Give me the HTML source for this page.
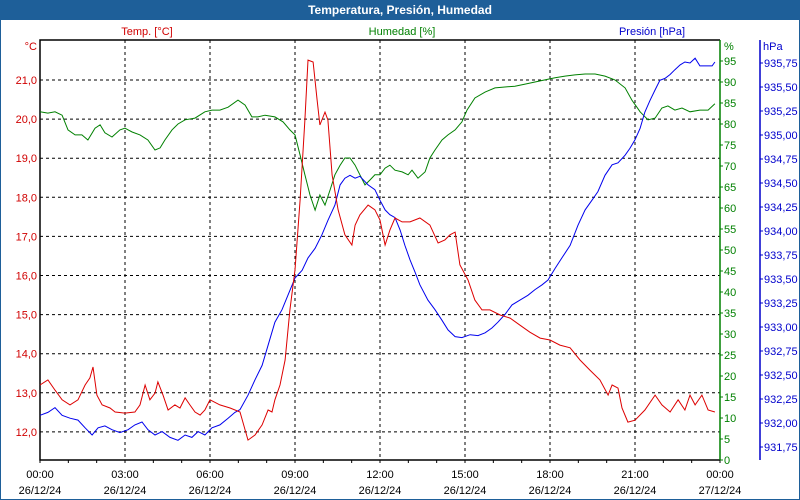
<!DOCTYPE html>
<html><head><meta charset="utf-8"><style>
html,body{margin:0;padding:0;background:#fff}
svg{display:block;font-family:"Liberation Sans",sans-serif}
</style></head><body>
<svg id="c" width="800" height="500" viewBox="0 0 800 500">
<rect x="0" y="0" width="800" height="500" fill="#fff" stroke="#1e5f99" stroke-width="2"/>
<rect x="0" y="0" width="800" height="20" fill="#1e5f99"/>
<text x="400" y="14" text-anchor="middle" font-size="12" font-weight="bold" fill="#fff">Temperatura, Presión, Humedad</text>
<text x="147" y="35" text-anchor="middle" font-size="11" fill="#d00000">Temp. [°C]</text>
<text x="402" y="35" text-anchor="middle" font-size="11" fill="#008000">Humedad [%]</text>
<text x="652" y="35" text-anchor="middle" font-size="11" fill="#0000cc">Presión [hPa]</text>
<text x="37" y="50" text-anchor="end" font-size="11" fill="#d00000">°C</text>
<text x="724" y="50" font-size="11" fill="#008000">%</text>
<text x="763" y="50" font-size="11" fill="#0000cc">hPa</text>
<g id="grid"></g><g id="axes"></g><g id="series"></g>
</svg>
<script>
const tempHours=[0,.28,.53,.78,1.06,1.34,1.59,1.76,1.87,2.01,2.19,2.47,2.65,3,3.35,3.53,3.71,3.88,4.06,4.16,4.34,4.52,4.76,4.94,5.12,5.29,5.47,5.65,5.82,6,6.35,6.71,7.06,7.34,7.59,7.84,8.05,8.19,8.29,8.47,8.65,8.82,9,9.18,9.35,9.46,9.64,9.78,9.88,10.06,10.16,10.31,10.52,10.76,11.01,11.12,11.29,11.58,11.82,12,12.18,12.35,12.53,12.78,13.06,13.41,13.76,14.05,14.29,14.47,14.65,14.82,15.11,15.35,15.6,15.88,16.24,16.59,16.94,17.29,17.65,18,18.35,18.71,19.06,19.41,19.76,20.05,20.19,20.4,20.54,20.75,21,21.35,21.71,21.95,22.24,22.52,22.76,22.94,23.12,23.36,23.58,23.82];
const tempValues=[13.2,13.33,13.07,12.82,12.69,12.82,13.2,13.38,13.66,12.94,12.69,12.61,12.51,12.48,12.51,12.69,13.2,12.82,12.99,13.28,12.94,12.56,12.69,12.61,12.87,12.69,12.51,12.43,12.56,12.82,12.69,12.61,12.51,11.79,11.92,12.18,12.56,12.51,12.82,13.2,13.84,15.12,16.14,17.93,19.98,21.51,21.46,20.49,19.85,20.18,19.98,18.57,17.68,17.04,16.78,17.29,17.55,17.8,17.68,17.42,16.78,17.16,17.47,17.37,17.37,17.47,17.29,16.83,16.91,17.04,17.11,16.27,15.88,15.37,15.12,15.12,14.99,14.91,14.73,14.55,14.4,14.35,14.22,14.15,13.84,13.58,13.33,12.94,13.2,13.12,12.61,12.25,12.3,12.56,12.94,12.69,12.51,12.82,12.56,12.94,12.69,12.94,12.56,12.51];
const humHours=[0,.28,.53,.78,.99,1.24,1.48,1.69,1.94,2.12,2.29,2.54,2.82,3,3.25,3.53,3.81,4.06,4.24,4.41,4.66,4.87,5.12,5.47,5.82,6.07,6.35,6.64,6.99,7.24,7.48,7.69,7.94,8.29,8.58,8.82,9,9.18,9.35,9.53,9.71,9.88,10.06,10.24,10.41,10.59,10.76,10.94,11.12,11.29,11.47,11.65,11.82,12,12.18,12.35,12.53,12.78,12.99,13.13,13.34,13.59,13.76,13.94,14.19,14.4,14.65,14.89,15.07,15.35,15.71,16.06,16.41,16.76,17.12,17.47,17.82,18.18,18.53,18.88,19.24,19.59,19.94,20.29,20.65,20.89,21.18,21.46,21.71,21.95,22.16,22.41,22.66,22.94,23.29,23.58,23.82];
const humValues=[82.9,82.6,82.9,82.1,78.6,77.4,77.4,76.2,79,79.8,77.9,76.9,78.6,79,78.1,77.4,76.2,73.8,74.3,76.2,78.6,80,81,81.4,82.9,83.3,83.3,84,85.7,84.5,81.7,81.7,82.1,81.7,80.5,78.6,77.4,72.6,67.9,63.1,59.5,63.1,60.7,64.3,67.9,70.2,71.9,71.9,70.2,67.9,65.5,66.7,67.9,67.9,69.5,70.2,69,68.6,67.9,69,67.1,68.6,71.9,73.8,76.2,77.4,78.6,80.5,83.3,86.2,87.6,88.6,88.8,89,89.5,90,90.5,91,91.4,91.7,91.9,91.9,91.4,90.5,88.6,85.7,82.9,81,81.4,83.8,84.3,83.3,83.8,82.9,83.3,83.3,84.8];
const presHours=[0,.28,.53,.78,1.06,1.34,1.59,1.84,2.05,2.29,2.54,2.82,3.11,3.35,3.6,3.81,4.06,4.31,4.59,4.87,5.12,5.36,5.58,5.82,6.07,6.35,6.64,6.88,7.06,7.34,7.59,7.84,8.05,8.29,8.54,8.75,9,9.25,9.46,9.71,9.95,10.16,10.41,10.59,10.76,10.94,11.12,11.29,11.58,11.82,12,12.18,12.35,12.53,12.71,12.88,13.06,13.24,13.41,13.69,13.94,14.19,14.4,14.65,14.89,15.18,15.46,15.71,15.95,16.16,16.41,16.66,16.94,17.22,17.47,17.72,17.93,18.18,18.42,18.71,18.99,19.24,19.48,19.69,19.94,20.19,20.4,20.65,20.82,21,21.18,21.35,21.53,21.71,21.88,22.06,22.24,22.41,22.59,22.76,22.94,23.12,23.29,23.47,23.72,23.82];
const presValues=[932.08,932.11,932.16,932.08,932.05,932.03,931.95,931.875,931.95,931.97,931.93,931.9,931.93,931.98,932.01,931.93,931.875,931.91,931.85,931.82,931.875,931.85,931.91,931.875,931.95,931.98,932.05,932.11,932.14,932.29,932.45,932.6,932.81,933.05,933.18,933.33,933.51,933.59,933.72,933.82,933.96,934.11,934.27,934.48,934.55,934.58,934.55,934.57,934.48,934.43,934.32,934.22,934.17,934.14,934.01,933.85,933.7,933.57,933.44,933.28,933.18,933.07,932.97,932.9,932.89,932.92,932.91,932.94,932.99,933.05,933.13,933.23,933.28,933.33,933.39,933.44,933.49,933.61,933.72,933.85,934.06,934.22,934.32,934.41,934.58,934.69,934.71,934.79,934.86,934.95,935.07,935.24,935.36,935.47,935.57,935.59,935.63,935.68,935.73,935.76,935.75,935.8,935.72,935.72,935.72,935.76];
const timeLabels=["00:00","03:00","06:00","09:00","12:00","15:00","18:00","21:00","00:00"];
const dateLabels=["26/12/24","26/12/24","26/12/24","26/12/24","26/12/24","26/12/24","26/12/24","26/12/24","27/12/24"];
const tempTicks=[12,13,14,15,16,17,18,19,20,21];
const humTicks=[0,5,10,15,20,25,30,35,40,45,50,55,60,65,70,75,80,85,90,95];
const presTicks=[931.75,932,932.25,932.5,932.75,933,933.25,933.5,933.75,934,934.25,934.5,934.75,935,935.25,935.5,935.75];

const X0=40,X1=720,Y0=40,Y1=460;
const xOf=h=>X0+h*(X1-X0)/24;
const yTemp=t=>80+(21-t)*39.1;
const yHum=v=>460-v*4.2;
const yPres=p=>447-(p-931.75)*96;
const NS="http://www.w3.org/2000/svg";
function mk(parent,tag,attrs,text){const e=document.createElementNS(NS,tag);for(const k in attrs)e.setAttribute(k,attrs[k]);if(text!==undefined)e.textContent=text;parent.appendChild(e);return e;}
const grid=document.getElementById('grid'),axes=document.getElementById('axes'),series=document.getElementById('series');
const fmt=(v,d)=>v.toFixed(d).replace('.',',');

tempTicks.forEach(t=>{const y=yTemp(t);
 const l=mk(grid,'line',{x1:X0,x2:X1,y1:y,y2:y,stroke:'#000','stroke-dasharray':'3,3'});
 
 
 const tx=mk(axes,'text',{x:37,y:y+4,'text-anchor':'end','font-size':11,fill:'#d00000'},fmt(t,1));
 
 
});
timeLabels.forEach((s,i)=>{const x=xOf(i*3);
 if(i>0&&i<8){const l=mk(grid,'line',{x1:x,x2:x,y1:Y0,y2:Y1,stroke:'#000','stroke-dasharray':'3,3'});
 
 }
 const a=mk(axes,'text',{x:x,y:478,'text-anchor':'middle','font-size':11,fill:'#000'},s);
 
 
 const b=mk(axes,'text',{x:x,y:494,'text-anchor':'middle','font-size':11,fill:'#000'},dateLabels[i]);
 
 
});
for(let h=0;h<=24;h++){const t=mk(axes,'line',{x1:xOf(h),x2:xOf(h),y1:Y1,y2:Y1+3,stroke:'#000'});
 
 }
const frame=mk(axes,'path',{d:`M${X1},${Y0}H${X0}V${Y1}H${X1}`,fill:'none',stroke:'#000','stroke-width':1.5});


const ga=mk(axes,'line',{x1:X1,x2:X1,y1:Y0,y2:Y1,stroke:'#008000','stroke-width':1.5});


const pa=mk(axes,'line',{x1:760,x2:760,y1:Y0,y2:Y1,stroke:'#0000cc','stroke-width':1.5});


humTicks.forEach(v=>{const y=yHum(v);
 mk(axes,'line',{x1:X1,x2:X1+3,y1:y,y2:y,stroke:'#008000'});
 const t=mk(axes,'text',{x:724,y:y+4,'font-size':11,fill:'#008000'},String(v));
 
 });
presTicks.forEach(v=>{const y=yPres(v);
 mk(axes,'line',{x1:760,x2:763,y1:y,y2:y,stroke:'#0000cc'});
 const t=mk(axes,'text',{x:764,y:y+4,'font-size':11,fill:'#0000cc'},fmt(v,2));
 
 });
function line(hs,vs,yf,col,name){const d=hs.map((h,i)=>(i?'L':'M')+xOf(h).toFixed(1)+','+yf(vs[i]).toFixed(1)).join('');
 const p=mk(series,'path',{d:d,fill:'none',stroke:col,'stroke-width':1});
 
 }
line(humHours,humValues,yHum,'#008000','humidity-line');
line(presHours,presValues,yPres,'#0000ee','pressure-line');
line(tempHours,tempValues,yTemp,'#dd0000','temperature-line');
</script>
</body></html>
